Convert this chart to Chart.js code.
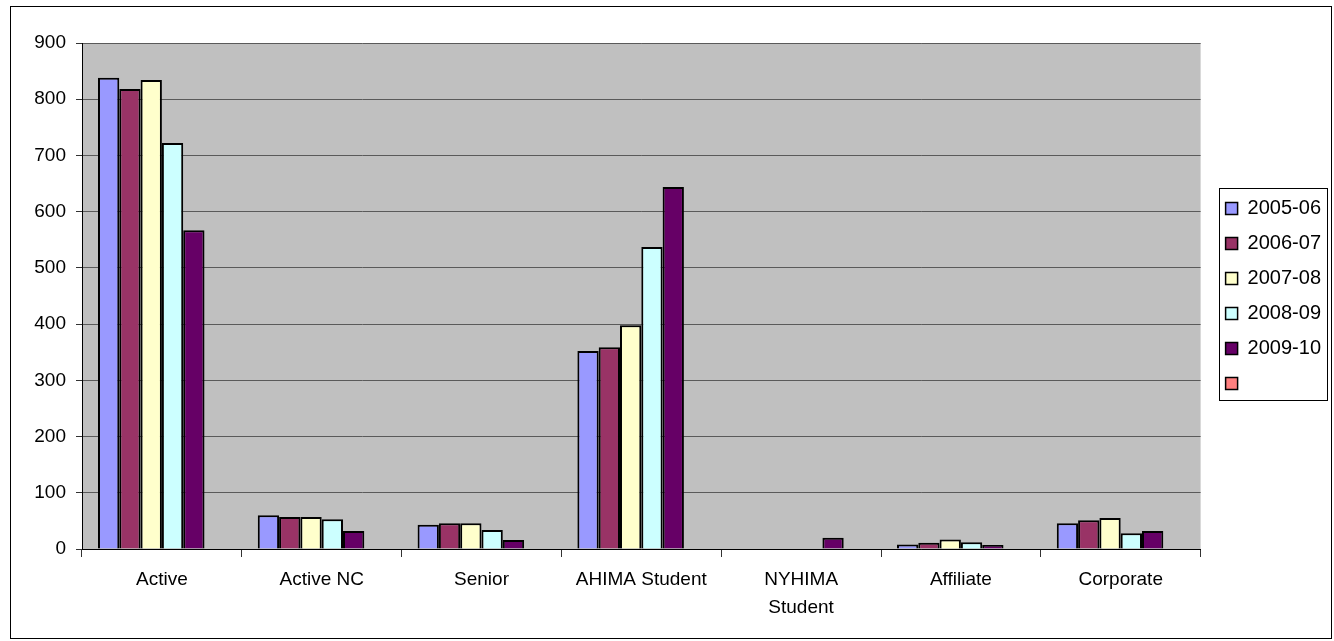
<!DOCTYPE html>
<html><head><meta charset="utf-8">
<script src="https://cdn.jsdelivr.net/npm/chart.js@4.4.1/dist/chart.umd.min.js"></script>
<style>html,body{margin:0;padding:0;background:#fff}#wrap{width:1334px;height:641px;position:relative}</style>
</head><body><div id="wrap"><canvas id="c" width="1334" height="641"></canvas></div>
<script>
const categories = ['Active', 'Active NC', 'Senior', 'AHIMA Student', ['NYHIMA', 'Student'], 'Affiliate', 'Corporate'];
const seriesNames = ['2005-06', '2006-07', '2007-08', '2008-09', '2009-10', ''];
const v2005_06 = [838, 60, 43, 352, 0, 8, 46];
const v2006_07 = [818, 57, 46, 359, 0, 11, 51];
const v2007_08 = [834, 57, 46, 398, 0, 17, 55];
const v2008_09 = [722, 53, 34, 537, 0, 12, 28];
const v2009_10 = [567, 32, 16, 644, 20, 7, 32];
const vEmpty = [null, null, null, null, null, null, null];
const yTicks = [0, 100, 200, 300, 400, 500, 600, 700, 800, 900];
const colors = ['#9999FF', '#993366', '#FFFFCC', '#CCFFFF', '#660066', '#FF8080'];
const seriesValues = [v2005_06, v2006_07, v2007_08, v2008_09, v2009_10, vEmpty];

const FONT = 'Liberation Sans, Arial, sans-serif';

const bgPlugin = {
  id: 'bg',
  afterLayout(chart) {
    // centre the legend on the plot area vertically (as in the reference)
    const lg = chart.legend;
    if (lg) {
      lg.bottom = chart.chartArea.bottom;
      lg.height = lg.bottom - lg.top;
    }
  },
  beforeDraw(chart) {
    const {ctx, chartArea: a} = chart;
    ctx.save();
    ctx.fillStyle = '#C0C0C0';
    ctx.fillRect(a.left, a.top, a.right - a.left, a.bottom - a.top);
    ctx.restore();
  },
  afterDraw(chart) {
    const ctx = chart.ctx;
    ctx.save();
    ctx.strokeStyle = '#000';
    ctx.lineWidth = 1;
    ctx.strokeRect(10.5, 6.5, 1321, 632);
    const hb = chart.legend.legendHitBoxes;
    if (hb && hb.length) {
      const l = hb[0].left - 7, t = hb[0].top - 11;
      const last = hb[hb.length - 1];
      const b = last.top + last.height + 6;
      ctx.strokeRect(Math.round(l) + 0.5, Math.round(t) + 0.5, 108, Math.round(b - t));
    }
    ctx.restore();
  }
};

new Chart(document.getElementById('c'), {
  type: 'bar',
  data: {
    labels: categories,
    datasets: seriesNames.map((n, i) => ({
      label: n,
      data: seriesValues[i],
      backgroundColor: colors[i],
      borderColor: '#000',
      borderWidth: 2,
      categoryPercentage: 0.8,
      barPercentage: 1.0
    }))
  },
  options: {
    responsive: false,
    animation: false,
    devicePixelRatio: 1,
    layout: {padding: {left: 10, top: 43, right: 3, bottom: 0}},
    plugins: {
      tooltip: {enabled: false},
      legend: {
        position: 'right',
        labels: {
          font: {family: FONT, size: 20},
          color: '#000',
          boxWidth: 12,
          boxHeight: 12,
          padding: 15,
          generateLabels(chart) {
            return chart.data.datasets.map((d, i) => ({
              text: d.label,
              fillStyle: d.backgroundColor,
              strokeStyle: '#000',
              lineWidth: 1.5,
              hidden: false,
              datasetIndex: i,
              fontColor: '#000'
            }));
          }
        }
      }
    },
    scales: {
      x: {
        offset: true,
        grid: {display: true, drawOnChartArea: false, offset: true, tickLength: 8, color: '#333'},
        border: {color: '#000', width: 1},
        ticks: {font: {family: FONT, size: 19, lineHeight: '28px'}, color: '#000', padding: 9, maxRotation: 0, autoSkip: false},
        afterFit(s) { s.height = 92; }
      },
      y: {
        min: 0, max: 900,
        afterBuildTicks(s) { s.ticks = yTicks.map(v => ({value: v})); },
        grid: {color: '#5a5a5a', lineWidth: 1, tickLength: 6, drawTicks: true, tickColor: '#333'},
        border: {color: '#000', width: 1},
        ticks: {font: {family: FONT, size: 19}, color: '#000', padding: 10},
        afterFit(s) { s.width = 72; }
      },
      gap: {
        type: 'linear',
        position: 'right',
        display: true,
        grid: {display: false, drawTicks: false},
        border: {display: false},
        ticks: {display: false},
        afterFit(s) { s.width = 10; }
      }
    }
  },
  plugins: [bgPlugin]
});
</script>
</body></html>
